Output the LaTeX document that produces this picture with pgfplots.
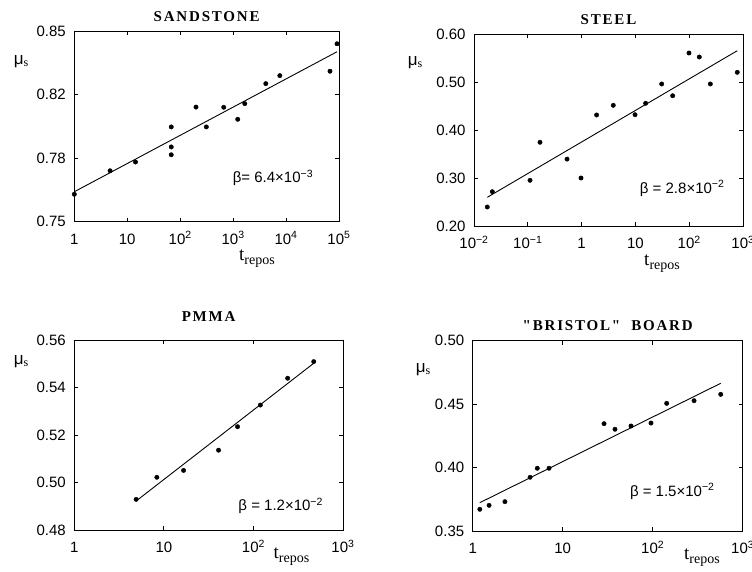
\documentclass[border=0pt]{standalone}
\usepackage{pgfplots}
\pgfplotsset{compat=1.18}
\usepackage{fontspec}
\setmainfont{Liberation Sans}
\newfontfamily\tickfont{Liberation Sans}
\newfontfamily\serif{Liberation Serif}
\newfontfamily\titlefont[LetterSpace=12]{Liberation Serif}
\newcommand\mus{{\fontsize{17bp}{20bp}\selectfont μ}{\serif\fontsize{12bp}{14bp}\selectfont\raisebox{-2bp}{s}}}
\newcommand\trepos{{\serif\fontsize{19bp}{22bp}\selectfont t\raisebox{-4bp}{\fontsize{14bp}{16bp}\selectfont repos}}}
\newcommand\supx[1]{\textsuperscript{#1}}
\tikzset{betalbl/.style={anchor=east,font=\fontsize{15bp}{18bp}\selectfont}}
\pgfplotsset{
  panel/.style={
    scale only axis,
    xminorticks=false,
    tick align=inside,
    major tick length=4bp,
    axis line style={line width=0.8bp},
    every tick/.style={line width=0.8bp,black},
    ticklabel style={font=\tickfont\fontsize{15bp}{18bp}\selectfont},
    xticklabel style={anchor=base,yshift=-22.5bp},
    yticklabel style={xshift=-5bp},
    title style={font=\titlefont\bfseries\fontsize{15bp}{18bp}\selectfont,at={(0.5,1)},anchor=base},
    ylabel style={rotate=-90,anchor=center},
    xlabel style={anchor=base},
    clip=false,
  },
  pts/.style={only marks,mark=*,mark size=2.2bp,black},
  fit/.style={black,line width=0.9bp,no marks},
}
\begin{document}
\begin{tikzpicture}
\path[use as bounding box] (0,0) rectangle (752bp,572bp);
% SANDSTONE
\begin{semilogxaxis}[panel,
  at={(74.3bp,350.3bp)},anchor=south west,
  width=264.7bp,height=190.7bp,
  xmin=1,xmax=1e5,ymin=0.75,ymax=0.85,
  xtick={1,10,100,1000,10000,100000},
  xticklabels={1,10,10\supx{2},10\supx{3},10\supx{4},10\supx{5}},
  ytick={0.75,0.783333,0.816667,0.85},
  yticklabels={0.75,0.78,0.82,0.85},
  title={SANDSTONE},title style={yshift=3.5bp},
  ylabel={\mus},ylabel style={at={(rel axis cs:-0.201,0.837)}},
  xlabel={\trepos},xlabel style={at={(rel axis cs:0.69,0)},yshift=-39bp},
]
\addplot[pts] coordinates {(1,0.7644)(4.74,0.7767)(14.3,0.7813)(67.8,0.7997)(67.8,0.7892)(67.8,0.7851)(199,0.8101)(312,0.7997)(664,0.8100)(1222,0.8037)(1660,0.8119)(4143,0.8224)(7630,0.8266)(67600,0.8289)(91600,0.8433)};
\addplot[fit] coordinates {(1,0.7657)(91600,0.8391)};
\node[betalbl] at (axis cs:37800,0.7728) {β= 6.4×10\supx{−3}};
\end{semilogxaxis}
% STEEL
\begin{semilogxaxis}[panel,
  at={(474bp,345.7bp)},anchor=south west,
  width=269bp,height=192bp,
  xmin=0.01,xmax=1000,ymin=0.2,ymax=0.6,
  xtick={0.01,0.1,1,10,100,1000},
  xticklabels={10\supx{−2},10\supx{−1},1,10,10\supx{2},10\supx{3}},
  ytick={0.2,0.3,0.4,0.5,0.6},
  yticklabels={0.20,0.30,0.40,0.50,0.60},
  title={STEEL},title style={yshift=3.8bp},
  ylabel={\mus},ylabel style={at={(rel axis cs:-0.219,0.85)}},
  xlabel={\trepos},xlabel style={at={(rel axis cs:0.699,0)},yshift=-39bp},
]
\addplot[pts] coordinates {(0.01766,0.2402)(0.0219,0.2721)(0.11,0.2958)(0.1686,0.375)(0.536,0.340)(0.975,0.3006)(1.9,0.4319)(3.88,0.452)(9.84,0.4325)(15.5,0.4563)(30.8,0.4965)(49.3,0.472)(99,0.561)(154,0.5527)(247,0.4965)(783,0.5208)};
\addplot[fit] coordinates {(0.01766,0.2604)(783,0.5658)};
\node[betalbl] at (axis cs:525,0.279) {β = 2.8×10\supx{−2}};
\end{semilogxaxis}
% PMMA
\begin{semilogxaxis}[panel,
  at={(74.3bp,42bp)},anchor=south west,
  width=268.7bp,height=190bp,
  xmin=1,xmax=1000,ymin=0.48,ymax=0.56,
  xtick={1,10,100,1000},
  xticklabels={1,10,10\supx{2},10\supx{3}},
  ytick={0.48,0.50,0.52,0.54,0.56},
  yticklabels={0.48,0.50,0.52,0.54,0.56},
  title={PMMA},title style={yshift=12.5bp},
  ylabel={\mus},ylabel style={at={(rel axis cs:-0.198,0.884)}},
  xlabel={\trepos},xlabel style={at={(rel axis cs:0.808,0)},yshift=-28bp},
]
\addplot[pts] coordinates {(4.9,0.4929)(8.35,0.5022)(16.6,0.5051)(40.8,0.5136)(66.5,0.5235)(119.5,0.5326)(241,0.5439)(471,0.5509)};
\addplot[fit] coordinates {(4.9,0.4922)(471,0.5502)};
\node[betalbl] at (axis cs:654,0.4903) {β = 1.2×10\supx{−2}};
\end{semilogxaxis}
% BRISTOL BOARD
\begin{semilogxaxis}[panel,
  at={(472.7bp,41bp)},anchor=south west,
  width=270bp,height=190.5bp,
  xmin=1,xmax=1000,ymin=0.35,ymax=0.5,
  xtick={1,10,100,1000},
  xticklabels={1,10,10\supx{2},10\supx{3}},
  ytick={0.35,0.40,0.45,0.50},
  yticklabels={0.35,0.40,0.45,0.50},
  title={"BRISTOL"\ \ BOARD},title style={yshift=4.5bp},
  ylabel={\mus},ylabel style={at={(rel axis cs:-0.184,0.845)}},
  xlabel={\trepos},xlabel style={at={(rel axis cs:0.849,0)},yshift=-28bp},
]
\addplot[pts] coordinates {(1.2,0.3671)(1.52,0.3702)(2.28,0.3731)(4.34,0.3923)(5.22,0.3994)(7.05,0.3994)(28.8,0.4345)(38.1,0.4301)(57.4,0.4327)(95.7,0.435)(143,0.4505)(288,0.4526)(570,0.4576)};
\addplot[fit] coordinates {(1.2,0.3723)(570,0.4663)};
\node[betalbl] at (axis cs:532,0.3812) {β = 1.5×10\supx{−2}};
\end{semilogxaxis}
\end{tikzpicture}
\end{document}
